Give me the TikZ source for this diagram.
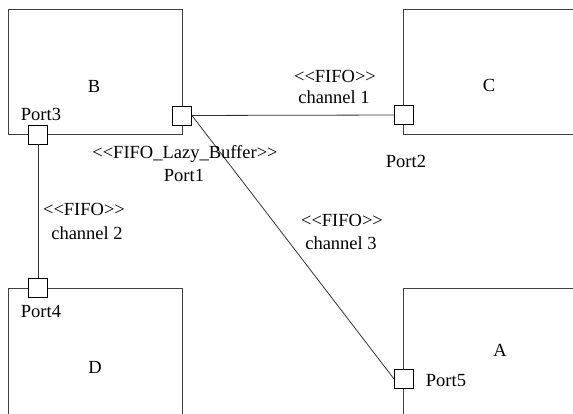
\documentclass[tikz,border=0pt]{standalone}
\usepackage{fontspec}
\setmainfont{Liberation Serif}
\newcommand{\llt}{<\kern0pt<}
\newcommand{\ggt}{>\kern0pt>}
\begin{document}
\begin{tikzpicture}[x=1pt,y=-1pt,
  box/.style={draw=black!75, line width=0.9pt, fill=white, rectangle, inner sep=0pt},
  port/.style={draw=black, line width=0.9pt, fill=white, rectangle, minimum size=19pt, inner sep=0pt},
  conn/.style={draw=black!80, line width=0.8pt},
  txt/.style={font=\fontsize{18.5}{22}\selectfont, anchor=base, inner sep=0pt}]
\useasboundingbox (0,0) rectangle (573,414);
\clip (0,0) rectangle (573,414);
% components
\node[box, minimum width=174pt, minimum height=125pt] (B) at (95,71.5) {};
\node[box, minimum width=177pt, minimum height=125pt] (C) at (491.5,71.5) {};
\node[box, minimum width=174pt, minimum height=150pt] (D) at (95,363) {};
\node[box, minimum width=177pt, minimum height=150pt] (A) at (491.5,363) {};
\node[txt] (Bl) at (94,93) {B};
\node[txt] (Cl) at (489,92) {C};
\node[txt] (Dl) at (95,373) {D};
\node[txt] (Al) at (500,356) {A};
% ports
\node[port] (P1) at (182,115.5) {};
\node[port] (P2) at (404,115) {};
\node[port] (P3) at (38,134.5) {};
\node[port] (P4) at (38,288) {};
\node[port] (P5) at (404,379) {};
% connectors
\draw[conn] (P1) -- (P2);
\draw[conn] (P3) -- (P4);
\draw[conn] (P1.east) -- (P5.west);
% port labels
\node[txt] (P3l) at (41,120.7) {Port3};
\node[txt] (P1s) at (185,159) {\llt FIFO\_Lazy\_Buffer\ggt};
\node[txt] (P1l) at (184,182) {Port1};
\node[txt] (P2l) at (406,167.7) {Port2};
\node[txt] (P4l) at (41,317) {Port4};
\node[txt] (P5l) at (446,386) {Port5};
% channel labels
\node[txt] (c1s) at (335,83) {\llt FIFO\ggt};
\node[txt] (c1l) at (334,104) {channel 1};
\node[txt] (c2s) at (84,215.7) {\llt FIFO\ggt};
\node[txt] (c2l) at (87,240) {channel 2};
\node[txt] (c3s) at (342,226.7) {\llt FIFO\ggt};
\node[txt] (c3l) at (341,250) {channel 3};
\end{tikzpicture}
\end{document}
